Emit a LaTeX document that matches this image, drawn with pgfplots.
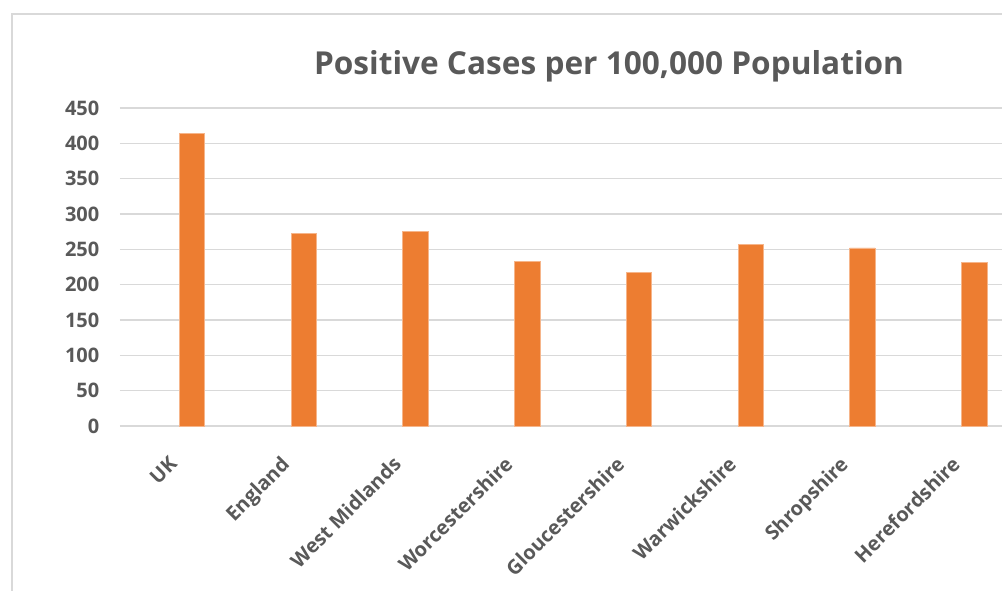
\documentclass[border=0pt]{standalone}
\usepackage{pgfplots}
\pgfplotsset{compat=1.18}
\usepackage{fontspec}
\setmainfont{Open Sans}
\definecolor{txt}{HTML}{595959}
\definecolor{gridc}{HTML}{D9D9D9}
\definecolor{barc}{HTML}{ED7D31}
\definecolor{bare}{HTML}{F6B58A}
\begin{document}
\begin{tikzpicture}
\begin{axis}[
  scale only axis, width=661.5pt, height=238.5pt,
  xmin=-0.5, xmax=7.393, ymin=0, ymax=450,
  axis line style={draw=none},
  major tick length=0pt,
  ytick={0,50,...,450},
  ymajorgrids, grid style={gridc, line width=1.1pt},
  xtick={0,...,7},
  xticklabels={UK,England,West Midlands,Worcestershire,Gloucestershire,Warwickshire,Shropshire,Herefordshire},
  xticklabel style={rotate=45, anchor=north east, text=txt, font=\fontsize{15}{17}\selectfont\bfseries, yshift=-7.75pt, xshift=-16pt},
  yticklabel style={text=txt, font=\fontsize{15}{17}\selectfont\bfseries, xshift=-12pt},
  /pgf/number format/assume math mode=true,
  clip=false,
]
\addplot[ybar, bar width=19.05pt, bar shift=12.07pt, fill=barc, draw=bare, line width=0.5pt]
 coordinates {(0,414) (1,273) (2,275) (3,233) (4,217) (5,257) (6,252) (7,231)};
\coordinate (O) at (axis cs:-0.5,0);
\end{axis}
\pgfresetboundingbox
\begin{scope}[shift={(O)}, x=0.75pt, y=0.75pt]
\path[use as bounding box] (-120,-164) rectangle (882,426);
\draw[gridc, line width=1.5pt] (-108,412) rectangle (900,-184);
\node[anchor=base, text=txt, font=\fontsize{23.7}{28}\selectfont\bfseries] at (489,351.7) {Positive Cases per 100,000 Population};
\end{scope}
\end{tikzpicture}
\end{document}
